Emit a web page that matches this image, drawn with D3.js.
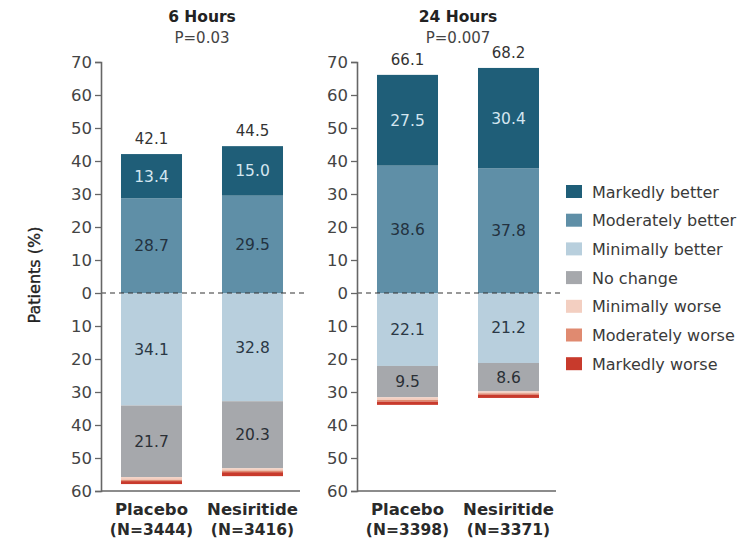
<!DOCTYPE html>
<html>
<head>
<meta charset="utf-8">
<script src="https://cdn.jsdelivr.net/npm/d3@7"></script>
<style>
  html, body { margin: 0; padding: 0; background: #fff; }
  svg { display: block; font-family: "DejaVu Sans", "Open Sans", sans-serif; }
</style>
</head>
<body>
<svg id="chart" width="750" height="543"></svg>
<script>
// Time points and their P values
const timePoints = ["6 Hours", "24 Hours"];
const pValues = ["P=0.03", "P=0.007"];
// Treatment arms and enrolled counts per time point
const arms = ["Placebo", "Nesiritide"];
const armCounts = [[3444, 3416], [3398, 3371]];

// Response categories (top to bottom in the legend)
const categories = [
  "Markedly better", "Moderately better", "Minimally better",
  "No change", "Minimally worse", "Moderately worse", "Markedly worse"
];
const categoryColors = ["#1f5e78", "#5f8fa7", "#b8cfdd", "#a6a8ac", "#f3cfc1", "#e08a70", "#c83a2c"];

// Percent of patients per bar: [6h Placebo, 6h Nesiritide, 24h Placebo, 24h Nesiritide]
const markedlyBetter   = [13.4, 15.0, 27.5, 30.4];
const moderatelyBetter = [28.7, 29.5, 38.6, 37.8];
const minimallyBetter  = [34.1, 32.8, 22.1, 21.2];
const noChange         = [21.7, 20.3, 9.5, 8.6];
const minimallyWorse   = [0.8, 0.7, 0.8, 0.6];
const moderatelyWorse  = [0.4, 0.5, 0.5, 0.4];
const markedlyWorse    = [0.9, 1.2, 1.0, 1.0];

// Totals printed above the bars (improved = markedly + moderately better)
const improvedTotals = [42.1, 44.5, 66.1, 68.2];

const yTicks = [70, 60, 50, 40, 30, 20, 10, 0, -10, -20, -30, -40, -50, -60];

const svg = d3.select("#chart");
const y = d3.scaleLinear().domain([-60, 70]).range([491, 62]);
const color = d3.scaleOrdinal().domain(categories).range(categoryColors);

const panelRanges = [[101, 303], [357, 559]];
const dashEnds = [308, 560];

const txtDark = "#333";

timePoints.forEach((tp, p) => {
  const [x0, x1] = panelRanges[p];
  const x = d3.scaleBand().domain(arms).range([x0, x1]).paddingInner(0.396).paddingOuter(0.198);
  const g = svg.append("g");

  // Panel titles
  const cx = (x0 + x1) / 2;
  g.append("text").attr("x", cx).attr("y", 22).attr("text-anchor", "middle")
    .attr("font-size", 15.5).attr("font-weight", 700).attr("fill", "#222").text(tp);
  g.append("text").attr("x", cx).attr("y", 43).attr("text-anchor", "middle")
    .attr("font-size", 15).attr("fill", "#444").text(pValues[p]);

  // Stacked bars
  arms.forEach((arm, a) => {
    const i = p * 2 + a;
    const up = [
      { cat: categories[1], v: moderatelyBetter[i], label: true, lc: "#23323f" },
      { cat: categories[0], v: markedlyBetter[i], label: true, lc: "#d4e6f0" }
    ];
    const down = [
      { cat: categories[2], v: minimallyBetter[i], label: true, lc: "#2a3845" },
      { cat: categories[3], v: noChange[i], label: true, lc: "#2a2f35" },
      { cat: categories[4], v: minimallyWorse[i], label: false },
      { cat: categories[5], v: moderatelyWorse[i], label: false },
      { cat: categories[6], v: markedlyWorse[i], label: false }
    ];
    const segs = [];
    let acc = 0;
    up.forEach(s => { segs.push({ ...s, lo: acc, hi: acc + s.v }); acc += s.v; });
    acc = 0;
    down.forEach(s => { segs.push({ ...s, lo: acc - s.v, hi: acc }); acc -= s.v; });

    const bx = x(arm), bw = x.bandwidth();
    g.selectAll(null).data(segs).enter().append("rect")
      .attr("x", bx).attr("width", bw)
      .attr("y", d => y(d.hi))
      .attr("height", d => y(d.lo) - y(d.hi))
      .attr("fill", d => color(d.cat));

    g.selectAll(null).data(segs.filter(d => d.label)).enter().append("text")
      .attr("x", bx + bw / 2)
      .attr("y", d => y((d.lo + d.hi) / 2) + 5.5)
      .attr("text-anchor", "middle").attr("font-size", 15.5)
      .attr("fill", d => d.lc)
      .text(d => d.v.toFixed(1));

    // Total above the bar
    g.append("text").attr("x", bx + bw / 2).attr("y", y(improvedTotals[i]) - 10)
      .attr("text-anchor", "middle").attr("font-size", 15).attr("fill", txtDark)
      .text(improvedTotals[i].toFixed(1));

    // Arm labels
    g.append("text").attr("x", bx + bw / 2).attr("y", 515)
      .attr("text-anchor", "middle").attr("font-size", 16.5).attr("font-weight", 700)
      .attr("fill", "#2a2a2a").text(arm);
    g.append("text").attr("x", bx + bw / 2).attr("y", 535)
      .attr("text-anchor", "middle").attr("font-size", 15.5).attr("font-weight", 700)
      .attr("fill", "#2a2a2a").text(`(N=${armCounts[p][a]})`);
  });

  // Dashed zero line
  g.append("line").attr("x1", x0).attr("x2", dashEnds[p])
    .attr("y1", y(0)).attr("y2", y(0))
    .attr("stroke", "#333").attr("stroke-width", 1.2).attr("stroke-dasharray", "5,4");

  // Baseline
  g.append("line").attr("x1", x0).attr("x2", x1 - 3)
    .attr("y1", y(-60)).attr("y2", y(-60))
    .attr("stroke", "#666").attr("stroke-width", 1.6);

  // Y axis with absolute-value labels
  const axis = d3.axisLeft(y).tickValues(yTicks).tickSize(6).tickPadding(3)
    .tickFormat(d => Math.abs(d));
  const ag = svg.append("g").attr("transform", `translate(${x0},0)`).call(axis);
  ag.select(".domain").attr("stroke", "#666").attr("stroke-width", 1.6);
  ag.selectAll(".tick line").attr("stroke", "#666").attr("stroke-width", 1.3);
  ag.selectAll(".tick text").attr("font-size", 16.5).attr("fill", "#444")
    .attr("font-family", "'DejaVu Sans', sans-serif");
});

// Y axis title
svg.append("text")
  .attr("transform", `translate(40,${y(0) - 18}) rotate(-90)`)
  .attr("text-anchor", "middle").attr("font-size", 16)
  .attr("fill", "#222").attr("stroke", "#222").attr("stroke-width", 0.35)
  .text("Patients (%)");

// Legend
const legend = svg.append("g").attr("transform", "translate(566,185)");
const lg = legend.selectAll("g").data(categories).enter().append("g")
  .attr("transform", (d, i) => `translate(0,${i * 28.7})`);
lg.append("rect").attr("width", 16).attr("height", 13).attr("fill", d => color(d));
lg.append("text").attr("x", 26).attr("y", 12.5).attr("font-size", 16)
  .attr("fill", "#3a3a3a").text(d => d);
</script>
</body>
</html>
